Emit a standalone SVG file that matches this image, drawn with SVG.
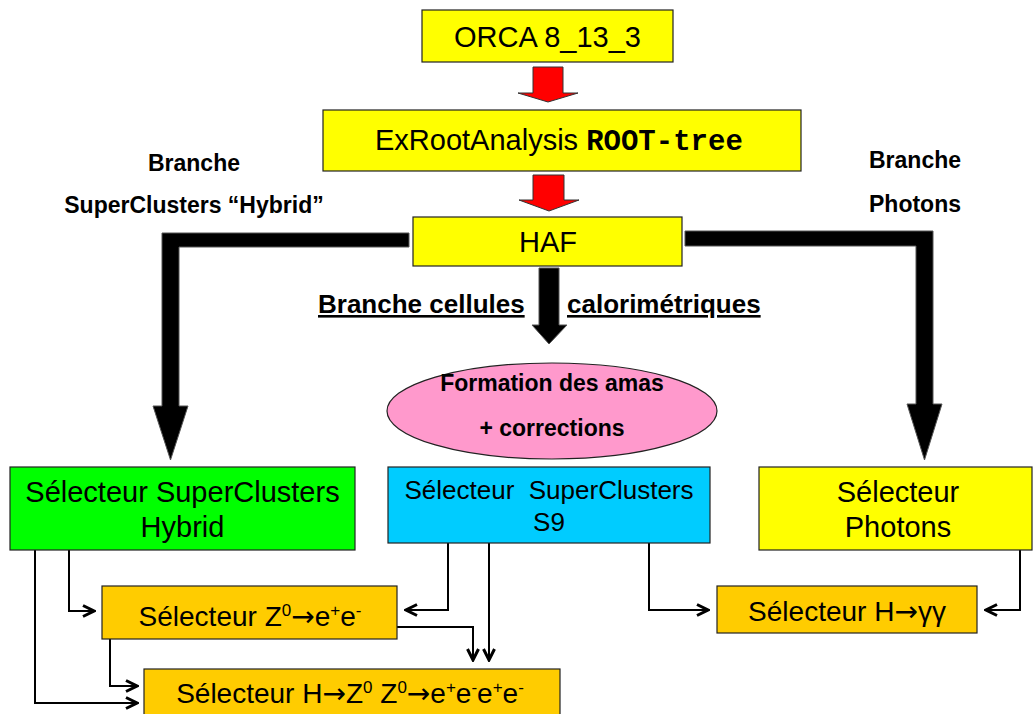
<svg xmlns="http://www.w3.org/2000/svg" width="1033" height="714" viewBox="0 0 1033 714">
<defs>
<style>
.box{stroke:#222;stroke-width:1.2}
.t{font-family:"Liberation Sans",Arial,sans-serif;fill:#000}
.b{font-family:"Liberation Sans",Arial,sans-serif;font-weight:bold;fill:#000}
.mono{font-family:"Liberation Mono","Courier New",monospace;font-weight:bold}
.ar{font-family:"DejaVu Sans",sans-serif;font-weight:normal}
.c{fill:none;stroke:#000;stroke-width:2}
.big{fill:#000;stroke:#555;stroke-width:1}
.red{fill:#FF0000;stroke:#333;stroke-width:1}
</style>
<marker id="ah" viewBox="0 0 14 14" refX="12" refY="7" markerWidth="14" markerHeight="14" markerUnits="userSpaceOnUse" orient="auto">
<path d="M1,1.5 L12,7 L1,12.5" fill="none" stroke="#000" stroke-width="3"/>
</marker>
</defs>
<rect width="1033" height="714" fill="#fff"/>

<g id="labels">
<text class="b" x="194" y="171" font-size="23" text-anchor="middle">Branche</text>
<text class="b" x="194" y="213" font-size="23" text-anchor="middle">SuperClusters “Hybrid”</text>
<text class="b" x="869" y="168" font-size="23">Branche</text>
<text class="b" x="869" y="212" font-size="23">Photons</text>
<text class="b" x="318" y="313" font-size="26" text-decoration="underline">Branche cellules</text>
<text class="b" x="567" y="313" font-size="26" text-decoration="underline">calorimétriques</text>
</g>

<g id="connectors">
<polygon class="red" points="533,67 563,67 563,93 578,93 548,102 518,93 533,93"/>
<polygon class="red" points="533,175 564,175 564,200 579,200 549,211 519,200 533,200"/>
<polygon class="big" points="409,233 162,233 162,406 153,406 170.5,460 188,406 179,406 179,247 409,247"/>
<polygon class="big" points="685,231 933,231 933,404 942,404 924.5,460 907,404 916,404 916,246 685,246"/>
<polygon class="big" points="539,268 559,268 559,325 567,325 549,344 532,325 539,325"/>
<path class="c" d="M35,550 V703 H137" marker-end="url(#ah)"/>
<path class="c" d="M69,550 V611 H94" marker-end="url(#ah)"/>
<path class="c" d="M110,639 V686 H137" marker-end="url(#ah)"/>
<path class="c" d="M448,543 V610 H406" marker-end="url(#ah)"/>
<path class="c" d="M397,627 H473 V660" marker-end="url(#ah)"/>
<path class="c" d="M489,543 V660" stroke-width="3" marker-end="url(#ah)"/>
<path class="c" d="M649,543 V610 H708" marker-end="url(#ah)"/>
<path class="c" d="M1020,550 V610 H986" marker-end="url(#ah)"/>
</g>

<g id="orca">
<rect class="box" x="422" y="10" width="251" height="52" fill="#FFFF00"/>
<text class="t" x="547.5" y="47" font-size="29" text-anchor="middle">ORCA 8_13_3</text>
</g>

<g id="exroot">
<rect class="box" x="323" y="110" width="478" height="61" fill="#FFFF00"/>
<text class="t" x="375" y="150" font-size="29">ExRootAnalysis <tspan class="mono">ROOT-tree</tspan></text>
</g>

<g id="haf">
<rect class="box" x="413" y="217" width="269" height="49" fill="#FFFF00"/>
<text class="t" x="548" y="252" font-size="29" text-anchor="middle">HAF</text>
</g>

<g id="formation">
<ellipse cx="552" cy="411" rx="165" ry="48" fill="#FF99CC" stroke="#222" stroke-width="1.2"/>
<text class="b" x="552" y="391" font-size="23" text-anchor="middle">Formation des amas</text>
<text class="b" x="552" y="436" font-size="23" text-anchor="middle">+ corrections</text>
</g>

<g id="sel-hybrid">
<rect class="box" x="10" y="467" width="345" height="83" fill="#00FF00"/>
<text class="t" x="182.5" y="502" font-size="29" text-anchor="middle">Sélecteur SuperClusters</text>
<text class="t" x="182.5" y="537" font-size="29" text-anchor="middle">Hybrid</text>
</g>

<g id="sel-s9">
<rect class="box" x="388" y="467" width="322" height="76" fill="#00CCFF"/>
<text class="t" x="549" y="499" font-size="26" text-anchor="middle" xml:space="preserve">Sélecteur  SuperClusters</text>
<text class="t" x="549" y="531" font-size="26" text-anchor="middle">S9</text>
</g>

<g id="sel-photons">
<rect class="box" x="759" y="467" width="273" height="83" fill="#FFFF00"/>
<text class="t" x="898" y="502" font-size="29" text-anchor="middle">Sélecteur</text>
<text class="t" x="898" y="537" font-size="29" text-anchor="middle">Photons</text>
</g>

<g id="sel-z">
<rect class="box" x="102" y="586" width="295" height="53" fill="#FFCC00"/>
<text class="t" x="250" y="626" font-size="28" text-anchor="middle">Sélecteur Z<tspan dy="-10" font-size="17">0</tspan><tspan dy="10" class="ar">→</tspan>e<tspan dy="-10" font-size="17">+</tspan><tspan dy="10">e</tspan><tspan dy="-10" font-size="17">-</tspan></text>
</g>

<g id="sel-hgg">
<rect class="box" x="717" y="586" width="260" height="47" fill="#FFCC00"/>
<text class="t" x="847" y="621" font-size="28" text-anchor="middle">Sélecteur H<tspan class="ar">→</tspan>γγ</text>
</g>

<g id="sel-hzz">
<rect class="box" x="144" y="669" width="416" height="60" fill="#FFCC00"/>
<text class="t" x="350" y="703" font-size="28" text-anchor="middle">Sélecteur H<tspan class="ar">→</tspan>Z<tspan dy="-10" font-size="17">0</tspan><tspan dy="10"> Z</tspan><tspan dy="-10" font-size="17">0</tspan><tspan dy="10" class="ar">→</tspan>e<tspan dy="-10" font-size="17">+</tspan><tspan dy="10">e</tspan><tspan dy="-10" font-size="17">-</tspan><tspan dy="10">e</tspan><tspan dy="-10" font-size="17">+</tspan><tspan dy="10">e</tspan><tspan dy="-10" font-size="17">-</tspan></text>
</g>
</svg>
